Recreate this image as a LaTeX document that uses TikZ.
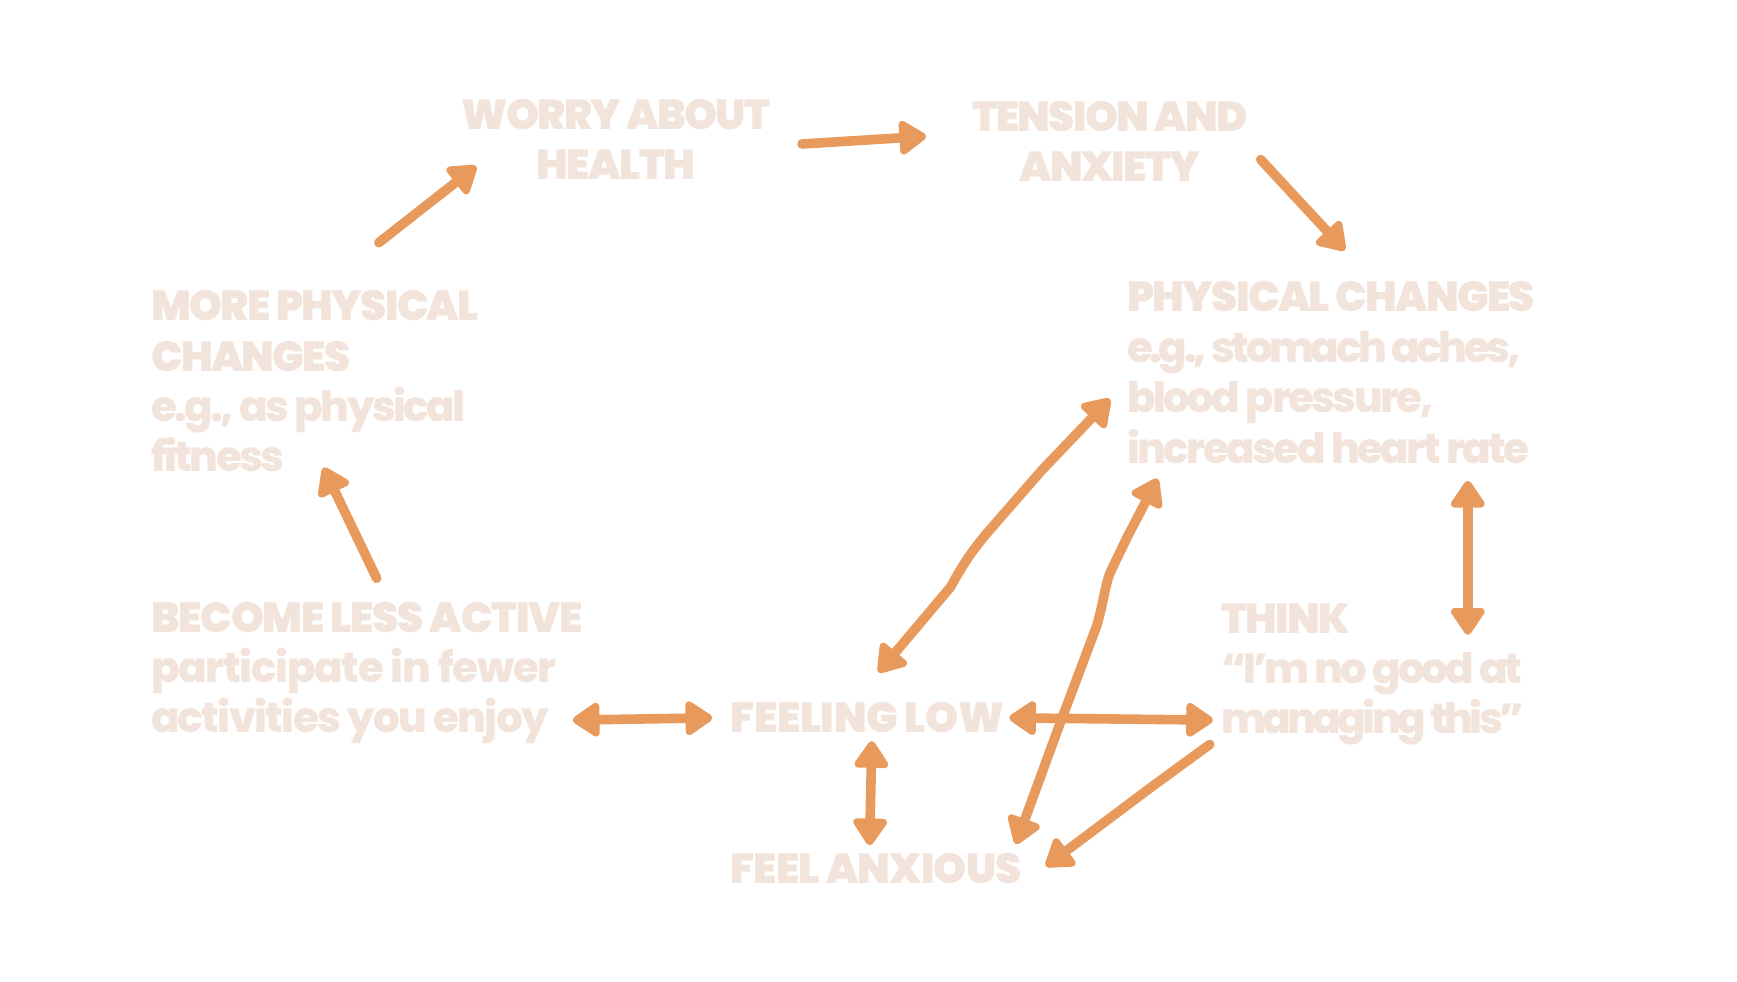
\documentclass[tikz,border=0pt]{standalone}
\usepackage{fontspec}
\setmainfont{Poppins Black}[LetterSpace=-4]
\newfontfamily\lc{Poppins ExtraBold}[LetterSpace=-6]
\newcommand\ls[1]{\addfontfeatures{LetterSpace=#1}}
\usetikzlibrary{arrows.meta}
\definecolor{textc}{HTML}{F3E4DB}
\definecolor{arrc}{HTML}{E89A5D}
\tikzset{
  txt/.style={text=textc, inner sep=0pt, font=\fontsize{21}{25.2}\selectfont},
  arr/.style={draw=arrc, line width=4.8pt, line cap=round, line join=round},
  tip/.tip={Triangle[length=15pt,width=19pt,round]},
  one/.style={arr, -tip},
  two/.style={arr, tip-tip},
}
\begin{document}
\begin{tikzpicture}[x=0.5539pt,y=-0.5539pt]
\fill[white] (0,0) rectangle (1568,886);
\useasboundingbox (0,0) rectangle (1568,886);
% text nodes
\node[txt, anchor=base] (worry) at (556,116.5) {\begin{tabular}[t]{@{}c@{}}WORRY ABOUT\\HEALTH\end{tabular}};
\node[txt, anchor=base] (tension) at (1002,118.5) {\begin{tabular}[t]{@{}c@{}}TENSION AND\\ANXIETY\end{tabular}};
\node[txt, anchor=base west] (phys) at (1017,281.5) {\begin{tabular}[t]{@{}l@{}}PHYSICAL CHANGES\\{\lc\ls{-8} e.g., stomach aches,}\\{\lc blood pressure,}\\{\lc increased heart rate}\end{tabular}};
\node[txt, anchor=base west] (more) at (136,289.5) {\begin{tabular}[t]{@{}l@{}}MORE PHYSICAL\\CHANGES\\{\lc e.g., as physical}\\{\lc fitness}\end{tabular}};
\node[txt, anchor=base west] (less) at (136,570.5) {\begin{tabular}[t]{@{}l@{}}{\ls{-3}BECOME LESS ACTIVE}\\{\lc\ls{-3} participate in fewer}\\{\lc\ls{-4} activities you enjoy}\end{tabular}};
\node[txt, anchor=base west] (low) at (659,661.5) {\ls{-1}FEELING LOW};
\node[txt, anchor=base west] (anx) at (659,797.5) {\ls{-2}FEEL ANXIOUS};
\node[txt, anchor=base west] (think) at (1102,571.5) {\begin{tabular}[t]{@{}l@{}}THINK\\{\lc\ls{-7} “I’m no good at}\\{\lc\ls{-8.5} managing this”}\end{tabular}};
% connector ends
\coordinate (a1s) at (342,219);  \coordinate (a1e) at (430,150);
\coordinate (a2s) at (724,130);  \coordinate (a2e) at (836,123);
\coordinate (a3s) at (1138,144); \coordinate (a3e) at (1214,226);
\coordinate (a4s) at (340,522);  \coordinate (a4e) at (292,422);
\coordinate (a5s) at (517,650);  \coordinate (a5e) at (643,648);
\coordinate (a6s) at (787,669);  \coordinate (a6e) at (785,763);
\coordinate (a7s) at (793,607);  \coordinate (a7e) at (1002,360);
\coordinate (a8s) at (917,762);  \coordinate (a8e) at (1045,432);
\coordinate (a9s) at (911,648);  \coordinate (a9e) at (1095,650);
\coordinate (a10s) at (1092,672); \coordinate (a10e) at (944,782);
\coordinate (a11s) at (1325,434); \coordinate (a11e) at (1325,573);
% connectors
\draw[one] (a1s) -- (a1e);
\draw[one] (a2s) -- (a2e);
\draw[one] (a3s) -- (a3e);
\draw[one] (a4s) -- (a4e);
\draw[two] (a5s) -- (a5e);
\draw[two] (a6s) -- (a6e);
\draw[two] (a7s) -- (858,530) .. controls (868,512) and (875,500) .. (892,480) -- (940,425) -- (a7e);
\draw[two] (a8s) -- (958,650) -- (990,565) .. controls (996,545) and (998,525) .. (1003,515) -- (1018,484) -- (a8e);
\draw[two] (a9s) -- (a9e);
\draw[one] (a10s) -- (1040,710) -- (a10e);
\draw[two] (a11s) -- (a11e);
\end{tikzpicture}
\end{document}
